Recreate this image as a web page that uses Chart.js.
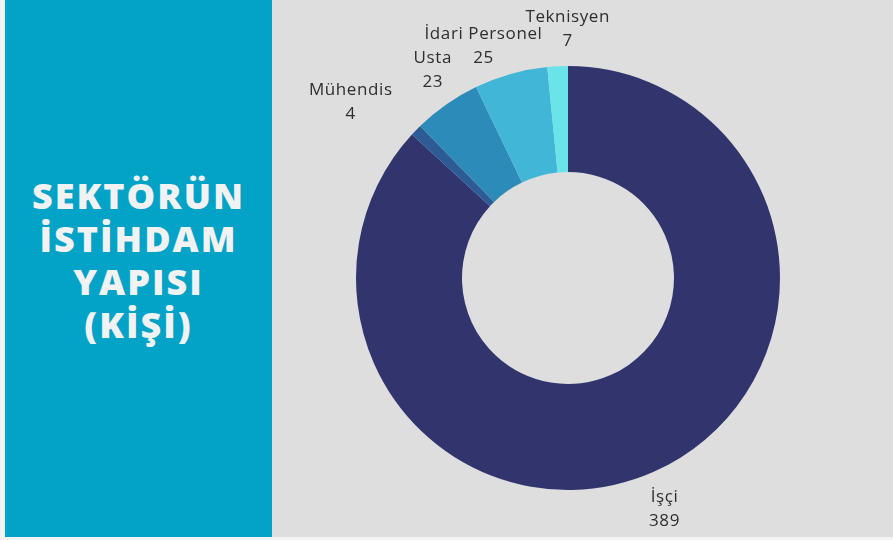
<!DOCTYPE html>
<html>
<head>
<meta charset="utf-8">
<script src="https://cdn.jsdelivr.net/npm/chart.js@4/dist/chart.umd.min.js"></script>
<style>
  html, body { margin: 0; padding: 0; }
  body { width: 893px; height: 540px; background: #f3f3f3; position: relative; overflow: hidden; }
  #side {
    position: absolute; left: 5px; top: 0; width: 267px; height: 537px;
    background: #03a2c7; color: #f2f2f2;
    font-family: "Open Sans", sans-serif; font-weight: 800;
    font-size: 36px; line-height: 43px; letter-spacing: 2px;
    display: flex; align-items: center; justify-content: center; text-align: center;
  }
  #side div { margin-top: -18px; }
  #plot { position: absolute; left: 272px; top: 0; width: 621px; height: 537px; background: #dedede; }
  #wrap { position: absolute; left: 0; top: 0; width: 893px; height: 540px; }
</style>
</head>
<body>
<div id="side"><div>SEKTÖRÜN<br>İSTİHDAM<br>YAPISI<br>(KİŞİ)</div></div>
<div id="plot"></div>
<div id="wrap"><canvas id="pieChart"></canvas></div>
<script>
const categories = ['İşçi', 'Mühendis', 'Usta', 'İdari Personel', 'Teknisyen'];
const counts = [389, 4, 23, 25, 7];
const colors = ['#31346d', '#2d5b96', '#2d8bb9', '#42b6d6', '#6ae3e9'];

// small nudges so the crowded labels sit like the original
const labelNudge = {
    'İşçi': [-4, 2],
    'Mühendis': [-38, -2],
    'Usta': [8, -3],
    'İdari Personel': [-17, 9],
    'Teknisyen': [12, 1]
};

const outsideLabels = {
    id: 'outsideLabels',
    afterDatasetsDraw(chart) {
        const ctx = chart.ctx;
        const meta = chart.getDatasetMeta(0);
        ctx.save();
        ctx.font = '17px "Open Sans", sans-serif';
        ctx.letterSpacing = '0.6px';
        ctx.fillStyle = '#2e2e2e';
        ctx.textAlign = 'center';
        ctx.textBaseline = 'middle';
        meta.data.forEach((arc, i) => {
            const mid = (arc.startAngle + arc.endAngle) / 2;
            const r = arc.outerRadius + 38;
            const n = labelNudge[categories[i]] || [0, 0];
            const x = arc.x + Math.cos(mid) * r + n[0];
            const y = arc.y + Math.sin(mid) * r + n[1];
            ctx.fillText(categories[i], x, y - 12);
            ctx.fillText(String(counts[i]), x, y + 12);
        });
        ctx.restore();
    }
};

new Chart(document.getElementById('pieChart').getContext('2d'), {
    type: 'doughnut',
    data: {
        labels: categories,
        datasets: [{
            data: counts,
            backgroundColor: colors,
            borderWidth: 0,
            cutout: '50%'
        }]
    },
    options: {
        responsive: true,
        maintainAspectRatio: false,
        animation: false,
        layout: {
            padding: { top: 66, bottom: 50, left: 356, right: 113 }
        },
        plugins: {
            legend: { display: false },
            tooltip: { enabled: false }
        }
    },
    plugins: [outsideLabels]
});
</script>
</body>
</html>
